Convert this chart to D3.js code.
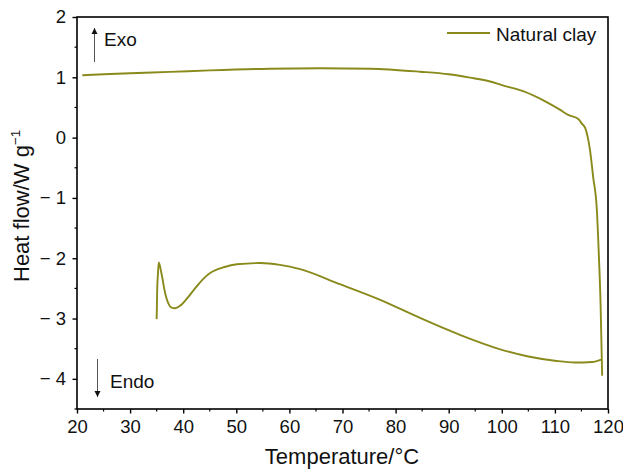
<!DOCTYPE html>
<html>
<head>
<meta charset="utf-8">
<script src="https://cdn.jsdelivr.net/npm/d3@7/dist/d3.min.js"></script>
<style>
  html, body { margin: 0; padding: 0; background: #fff; }
  svg { display: block; font-family: "Liberation Sans", Arial, Helvetica, sans-serif; }
</style>
</head>
<body>
<svg id="chart" width="623" height="469"></svg>
<script>
// DSC trace of the natural clay: heating run (upper) and cooling run (lower)
const heatTemp = [21.0, 25, 30, 37.5, 45, 56.3, 65.8, 75.2, 84.6, 90, 94.0, 97.8, 100, 104, 108, 111, 112.5, 114.4, 115.0, 115.7, 116.2, 116.6, 117.2, 117.9, 118.3, 118.6, 118.9];
const heatFlow = [1.034, 1.05, 1.068, 1.09, 1.115, 1.143, 1.15, 1.143, 1.093, 1.05, 0.994, 0.93, 0.87, 0.77, 0.61, 0.46, 0.376, 0.31, 0.24, 0.16, 0.0, -0.2, -0.65, -1.2, -2.0, -2.75, -3.95];

const coolTemp = [35.0, 35.1, 35.25, 35.4, 35.9, 36.6, 37.2, 37.8, 38.5, 39.4, 40.6, 42.5, 43.7, 45, 46.3, 47.6, 50.1, 54.5, 58.2, 62, 69.5, 77.1, 84.6, 92.1, 99.7, 105, 110, 113.8, 117, 118.7];
const coolFlow = [-3.01, -2.53, -2.25, -2.07, -2.25, -2.58, -2.75, -2.82, -2.83, -2.79, -2.68, -2.47, -2.35, -2.25, -2.19, -2.15, -2.10, -2.08, -2.11, -2.18, -2.43, -2.69, -2.99, -3.27, -3.51, -3.63, -3.70, -3.73, -3.72, -3.68];

const xTicks = [20, 30, 40, 50, 60, 70, 80, 90, 100, 110, 120];
const yTicks = [-4, -3, -2, -1, 0, 1, 2];
const seriesName = "Natural clay";
const lineColor = "#8a8a1c";

const svg = d3.select("#chart");
const m = { left: 77, right: 608, top: 17, bottom: 409 };

const x = d3.scaleLinear().domain([20, 120]).range([m.left, m.right]);
const y = d3.scaleLinear().domain([-4.5, 2]).range([m.bottom, m.top]);

const fmt = d => d < 0 ? "\u2212 " + Math.abs(d) : String(d);

// minor ticks
const gMinor = svg.append("g").attr("stroke", "#000").attr("stroke-width", 1.2);
d3.range(25, 120, 10).forEach(v => {
  gMinor.append("line").attr("x1", x(v)).attr("x2", x(v)).attr("y1", m.bottom).attr("y2", m.bottom + 2.5);
});
d3.range(-4.5, 2, 1).forEach(v => {
  gMinor.append("line").attr("y1", y(v)).attr("y2", y(v)).attr("x1", m.left).attr("x2", m.left - 2.5);
});

// x axis
const gx = svg.append("g")
  .attr("transform", `translate(0,${m.bottom})`)
  .call(d3.axisBottom(x).tickValues(xTicks).tickSize(4.5).tickPadding(6).tickFormat(fmt));
gx.select(".domain").remove();
gx.selectAll("line").attr("stroke-width", 1.4);
gx.selectAll("text").attr("font-size", 18.5).attr("fill", "#111").attr("font-family", "Liberation Sans, Arial, sans-serif");

// y axis
const gy = svg.append("g")
  .attr("transform", `translate(${m.left},0)`)
  .call(d3.axisLeft(y).tickValues(yTicks).tickSize(4.5).tickPadding(6.5).tickFormat(fmt));
gy.select(".domain").remove();
gy.selectAll("line").attr("stroke-width", 1.4);
gy.selectAll("text").attr("font-size", 18.5).attr("fill", "#111").attr("font-family", "Liberation Sans, Arial, sans-serif");

// frame
svg.append("rect")
  .attr("x", m.left).attr("y", m.top)
  .attr("width", m.right - m.left).attr("height", m.bottom - m.top)
  .attr("fill", "none").attr("stroke", "#000").attr("stroke-width", 1.6);

// curves
const line = d3.line().x(d => x(d[0])).y(d => y(d[1])).curve(d3.curveMonotoneX);
const heating = heatTemp.map((t, i) => [t, heatFlow[i]]);
const cooling = coolTemp.map((t, i) => [t, coolFlow[i]]);
[heating, cooling].forEach(data => {
  svg.append("path").datum(data)
    .attr("d", line)
    .attr("fill", "none")
    .attr("stroke", lineColor)
    .attr("stroke-width", 1.9)
    .attr("stroke-linejoin", "round");
});

// axis titles
svg.append("text")
  .attr("x", 342).attr("y", 464)
  .attr("text-anchor", "middle").attr("font-size", 22).attr("fill", "#111")
  .text("Temperature/\u00B0C");

const yt = svg.append("text")
  .attr("transform", "translate(29,282) rotate(-90)")
  .attr("text-anchor", "start").attr("font-size", 22).attr("fill", "#111");
yt.append("tspan").text("Heat flow/W g");
yt.append("tspan").attr("font-size", 13.5).attr("dy", -9).text("\u22121");

// Exo / Endo arrows
const defs = svg.append("defs");
defs.append("marker")
  .attr("id", "head").attr("viewBox", "0 0 10 10")
  .attr("refX", 10).attr("refY", 5)
  .attr("markerWidth", 6).attr("markerHeight", 10)
  .attr("markerUnits", "userSpaceOnUse")
  .attr("orient", "auto")
  .append("path").attr("d", "M0,0 L10,5 L0,10 Z").attr("fill", "#111");

svg.append("line").attr("x1", 94.5).attr("y1", 62).attr("x2", 94.5).attr("y2", 28)
  .attr("stroke", "#555").attr("stroke-width", 1).attr("marker-end", "url(#head)");
svg.append("text").attr("x", 104).attr("y", 45.5).attr("font-size", 19).attr("fill", "#111").text("Exo");

svg.append("line").attr("x1", 97.5).attr("y1", 359).attr("x2", 97.5).attr("y2", 397)
  .attr("stroke", "#555").attr("stroke-width", 1).attr("marker-end", "url(#head)");
svg.append("text").attr("x", 110).attr("y", 387.5).attr("font-size", 19).attr("fill", "#111").text("Endo");

// legend
svg.append("line").attr("x1", 447).attr("x2", 490).attr("y1", 33).attr("y2", 33)
  .attr("stroke", lineColor).attr("stroke-width", 1.9);
svg.append("text").attr("x", 496).attr("y", 40.5).attr("font-size", 19).attr("fill", "#111").text(seriesName);
</script>
</body>
</html>
